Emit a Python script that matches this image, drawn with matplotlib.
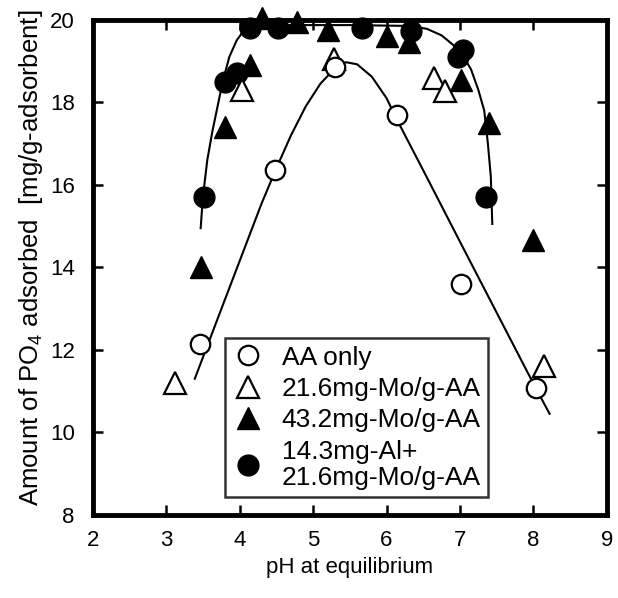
import matplotlib
matplotlib.use("Agg")
import matplotlib.pyplot as plt
from matplotlib.lines import Line2D

plt.rcParams['font.family'] = ['Liberation Sans', 'DejaVu Sans']
plt.rcParams['mathtext.default'] = 'regular'

# Data
aa_x = [3.46, 4.48, 5.30, 6.14, 7.02, 8.04]
aa_y = [12.15, 16.36, 18.86, 17.70, 13.60, 11.08]

mo216_x = [3.12, 4.03, 5.29, 6.65, 6.79, 8.15]
mo216_y = [11.20, 18.30, 19.05, 18.60, 18.28, 11.60]

mo432_x = [3.48, 3.80, 4.14, 4.30, 4.78, 5.20, 6.00, 6.30, 7.02, 7.40, 7.99]
mo432_y = [14.00, 17.40, 18.90, 20.05, 19.95, 19.75, 19.60, 19.45, 18.55, 17.50, 14.65]

almo_x = [3.52, 3.80, 3.96, 4.14, 4.52, 5.67, 6.34, 6.97, 7.04, 7.36]
almo_y = [15.70, 18.50, 18.70, 19.80, 19.80, 19.80, 19.72, 19.10, 19.27, 15.70]

# Fitted curves
fit_aa_x = [3.39, 3.70, 4.00, 4.30, 4.50, 4.70, 4.90, 5.10, 5.30, 5.45, 5.60,
            5.80, 6.00, 6.15, 6.50, 7.00, 7.50, 8.00, 8.22]
fit_aa_y = [11.30, 12.75, 14.15, 15.55, 16.40, 17.20, 17.90, 18.45, 18.83, 18.97, 18.92,
            18.62, 18.10, 17.55, 16.35, 14.62, 12.90, 11.18, 10.45]

fit_mo_x = [3.47, 3.50, 3.56, 3.63, 3.70, 3.77, 3.86, 3.96, 4.05, 4.20, 4.60, 5.50,
            6.30, 6.55, 6.75, 6.90, 7.05, 7.15, 7.25, 7.33, 7.38, 7.42, 7.44]
fit_mo_y = [14.95, 15.70, 16.60, 17.30, 17.90, 18.50, 19.10, 19.50, 19.72, 19.83, 19.87, 19.87,
            19.85, 19.78, 19.62, 19.40, 19.10, 18.80, 18.30, 17.80, 17.00, 16.20, 15.05]

labels = ["AA only", "21.6mg-Mo/g-AA", "43.2mg-Mo/g-AA", "14.3mg-Al+\n21.6mg-Mo/g-AA"]
x_ticks = [2, 3, 4, 5, 6, 7, 8, 9]
y_ticks = [8, 10, 12, 14, 16, 18, 20]

fig = plt.figure(figsize=(6.18, 5.98), dpi=100)
ax = fig.add_axes([0.150, 0.139, 0.832, 0.828])

ax.plot(fit_aa_x, fit_aa_y, color='black', lw=1.5, zorder=2)
ax.plot(fit_mo_x, fit_mo_y, color='black', lw=1.5, zorder=2)

ms_c = 15
ms_t = 16
ax.plot(mo432_x, mo432_y, ls='none', marker='^', ms=ms_t, mfc='black', mec='black',
        clip_on=False, zorder=3)
ax.plot(almo_x, almo_y, ls='none', marker='o', ms=ms_c, mfc='black', mec='black',
        clip_on=False, zorder=3)
ax.plot(mo216_x, mo216_y, ls='none', marker='^', ms=ms_t, mfc='white', mec='black', mew=1.6,
        clip_on=False, zorder=4)
ax.plot(aa_x, aa_y, ls='none', marker='o', ms=ms_c - 1, mfc='white', mec='black', mew=1.6,
        clip_on=False, zorder=5)

ax.set_xlim(2, 9)
ax.set_ylim(8, 20)
ax.set_xticks(x_ticks)
ax.set_yticks(y_ticks)
ax.tick_params(direction='in', length=7, width=1.8, labelsize=16, top=True, right=True)
ax.tick_params(axis='x', pad=11)
ax.tick_params(axis='y', pad=13)
for sp in ax.spines.values():
    sp.set_linewidth(3.5)

ax.set_xlabel("pH at equilibrium", fontsize=16, labelpad=4)
ax.set_ylabel("Amount of PO$_4$ adsorbed  [mg/g-adsorbent]", fontsize=18.5)
ax.yaxis.set_label_coords(-0.092, 0.52)

handles = [
    Line2D([], [], ls='none', marker='o', ms=ms_c - 1, mfc='white', mec='black', mew=1.6),
    Line2D([], [], ls='none', marker='^', ms=ms_t, mfc='white', mec='black', mew=1.6),
    Line2D([], [], ls='none', marker='^', ms=ms_t, mfc='black', mec='black'),
    Line2D([], [], ls='none', marker='o', ms=ms_c, mfc='black', mec='black'),
]
leg = ax.legend(handles, labels, loc='lower left', bbox_to_anchor=(0.257, 0.036),
                fontsize=19, frameon=True, fancybox=False, edgecolor='black',
                borderpad=0.28, labelspacing=0.28, handlelength=1.2, handletextpad=0.68,
                borderaxespad=0)
leg.get_frame().set_linewidth(1.8)
for t in leg.get_texts():
    t.set_linespacing(1.1)

fig.savefig("out.png", dpi=100)
